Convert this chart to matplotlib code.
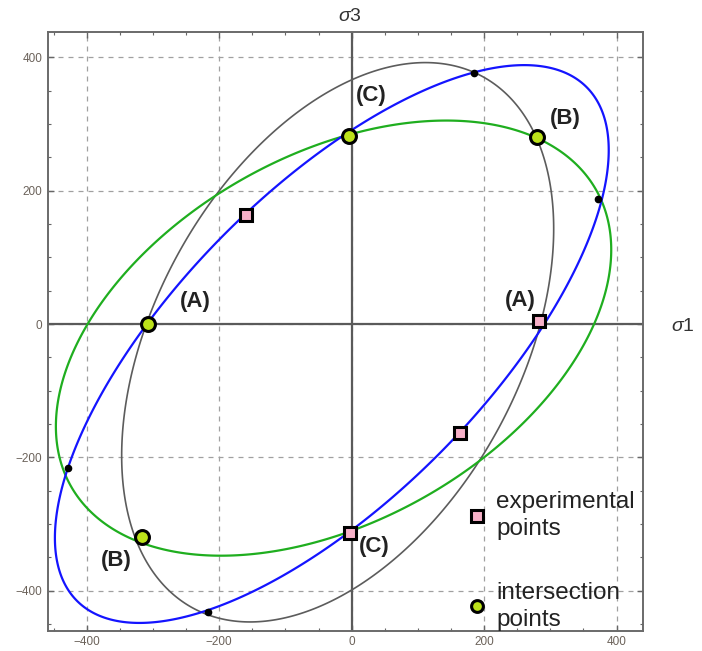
import numpy as np
import matplotlib.pyplot as plt
from matplotlib.lines import Line2D
from matplotlib.ticker import MultipleLocator

plt.rcParams['font.family'] = ['Liberation Sans', 'DejaVu Sans']
plt.rcParams['mathtext.fontset'] = 'custom'
plt.rcParams['mathtext.it'] = 'Liberation Sans:italic'
plt.rcParams['mathtext.rm'] = 'Liberation Sans'

# yield loci as conics: a*x^2 + b*x*y + c*y^2 + d*x + e*y = 1
blue_coef = [1.1125e-5, -1.5461e-5, 1.1125e-5, 2.036e-4, 2.036e-4]
green_coef = [6.85e-6, -7.148e-6, 1.1319e-5, 2.237e-4, 2.830e-4]
gray_coef = [1.1319e-5, -7.148e-6, 6.85e-6, 2.830e-4, 2.237e-4]

exp_x = [-159, 283, 163, -2]
exp_y = [164, 4, -163, -313]
inter_x = [-307, -4, 280, -316]
inter_y = [0, 282, 280, -319]
cross_x = [185, 372, -429, -217]
cross_y = [376, 188, -216, -432]

point_labels = ['(A)', '(A)', '(B)', '(B)', '(C)', '(C)']
label_x = [-236, 255, 322, -356, 30, 34]
label_y = [34, 36, 308, -355, 343, -334]

fig = plt.figure(figsize=(7.02, 6.51), dpi=100)
ax = fig.add_axes([0.068, 0.031, 0.848, 0.920])

xs = np.linspace(-480, 460, 900)
ys = np.linspace(-480, 460, 900)
X, Y = np.meshgrid(xs, ys)


def conic(c):
    return c[0] * X**2 + c[1] * X * Y + c[2] * Y**2 + c[3] * X + c[4] * Y


ax.axhline(0, color='#5a5a5a', lw=1.6, zorder=2)
ax.axvline(0, color='#5a5a5a', lw=1.6, zorder=2)

ax.contour(X, Y, conic(gray_coef), levels=[1], colors='#5c5c5c', linewidths=1.2, zorder=3)
ax.contour(X, Y, conic(green_coef), levels=[1], colors='#1fae1f', linewidths=1.6, zorder=3)
ax.contour(X, Y, conic(blue_coef), levels=[1], colors='#1414ff', linewidths=1.6, zorder=3)

ax.plot(cross_x, cross_y, 'o', color='black', ms=4.5, zorder=5)
ax.plot(exp_x, exp_y, 's', mfc='#f7b0c8', mec='black', ms=8, mew=2.2, zorder=6)
ax.plot(inter_x, inter_y, 'o', mfc='#bce21a', mec='black', ms=10, mew=2.2, zorder=6)

for lab, lx, ly in zip(point_labels, label_x, label_y):
    ax.text(lx, ly, lab, fontsize=16, fontweight='bold', color='#222222',
            ha='center', va='center', zorder=7)

handles = [
    Line2D([], [], ls='none', marker='s', mfc='#f7b0c8', mec='black', ms=8, mew=2.2),
    Line2D([], [], ls='none', marker='o', mfc='#bce21a', mec='black', ms=8.5, mew=2.2),
]
leg = ax.legend(handles, ['experimental\npoints', 'intersection\npoints'],
                loc='lower left', bbox_to_anchor=(0.70, 0.0), frameon=False,
                fontsize=17.5, handlelength=1.0, handletextpad=0.3, labelspacing=1.7,
                borderpad=0, borderaxespad=0, labelcolor='#222222')
for t in leg.get_texts():
    t.set_linespacing(1.3)

ax.set_xlim(-459, 440)
ax.set_ylim(-460, 438)
ax.set_xticks([-400, -200, 0, 200, 400])
ax.set_yticks([-400, -200, 0, 200, 400])
ax.xaxis.set_minor_locator(MultipleLocator(50))
ax.yaxis.set_minor_locator(MultipleLocator(50))
ax.tick_params(which='both', direction='in', top=True, right=True, color='#666666')
ax.tick_params(which='major', length=4.5, width=1.0, labelsize=8.5, labelcolor='#6b625a', pad=4)
ax.tick_params(which='minor', length=2.5, width=0.8)
ax.grid(True, which='major', ls=(0, (4, 4)), color='#a0a0a0', lw=0.9)
for sp in ax.spines.values():
    sp.set_color('#6a6a6a')
    sp.set_linewidth(1.4)

fig.text(0.499, 0.975, r'$\sigma$3', fontsize=14, color='#333333', ha='center', va='center')
fig.text(0.972, 0.498, r'$\sigma$1', fontsize=14, color='#333333', ha='center', va='center')

fig.savefig('out.png', dpi=100)
